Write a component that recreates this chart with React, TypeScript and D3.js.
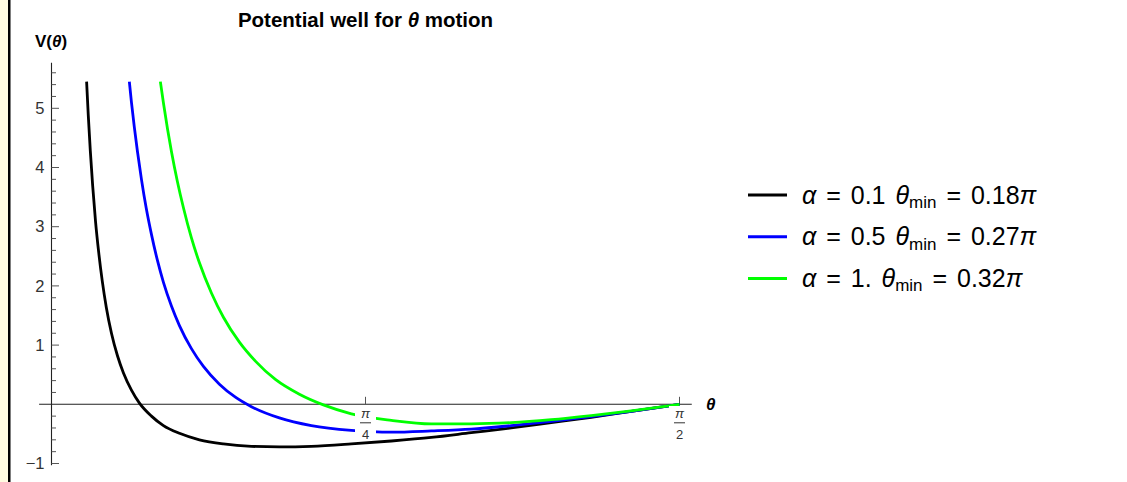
import * as d3 from "d3";

// readings (theta in radians, V)
const BLACK_T = [0.0878, 0.092, 0.097, 0.103, 0.11, 0.118, 0.127, 0.137, 0.15, 0.165, 0.18, 0.2, 0.22, 0.25, 0.28, 0.32, 0.37, 0.43, 0.5, 0.57, 0.65, 0.75, 0.85, 0.95, 1.05, 1.15, 1.25, 1.35, 1.45, 1.5708];
const BLACK_V = [5.45, 4.88, 4.29, 3.69, 3.1, 2.57, 2.08, 1.64, 1.2, 0.82, 0.53, 0.24, 0.02, -0.2, -0.36, -0.49, -0.6, -0.67, -0.71, -0.72, -0.71, -0.67, -0.62, -0.56, -0.48, -0.4, -0.31, -0.22, -0.12, 0];

const BLUE_T = [0.1947, 0.2, 0.207, 0.215, 0.225, 0.237, 0.25, 0.265, 0.28, 0.3, 0.32, 0.35, 0.38, 0.42, 0.46, 0.5, 0.57, 0.65, 0.75, 0.85, 0.95, 1.05, 1.15, 1.25, 1.35, 1.45, 1.5708];
const BLUE_V = [5.45, 5.1, 4.69, 4.27, 3.8, 3.31, 2.87, 2.43, 2.06, 1.66, 1.33, 0.94, 0.64, 0.34, 0.12, -0.04, -0.23, -0.36, -0.44, -0.47, -0.45, -0.42, -0.36, -0.29, -0.21, -0.12, 0];

const GREEN_T = [0.2723, 0.28, 0.29, 0.3, 0.315, 0.33, 0.35, 0.37, 0.4, 0.43, 0.47, 0.51, 0.56, 0.62, 0.68, 0.75, 0.85, 0.95, 1.05, 1.15, 1.25, 1.35, 1.45, 1.5708];
const GREEN_V = [5.45, 5.09, 4.66, 4.27, 3.76, 3.32, 2.81, 2.39, 1.88, 1.47, 1.05, 0.73, 0.42, 0.17, -0.01, -0.16, -0.27, -0.33, -0.33, -0.31, -0.26, -0.19, -0.11, 0];

const ALPHAS = ["0.1", "0.5", "1."];
const THETA_MINS = ["0.18", "0.27", "0.32"];
const COLORS = ["#000000", "#0000ff", "#00ff00"];

const Y_MAJOR = [-1, 1, 2, 3, 4, 5];
const Y_LABELS = ["\u22121", "1", "2", "3", "4", "5"];
const X_TICKS = [Math.PI / 4, Math.PI / 2];
const X_TICK_DEN = ["4", "2"];

const FONT = "'Liberation Sans', Arial, sans-serif";

export default function App() {
  const W = 1127, H = 482;
  const x = d3.scaleLinear().domain([0, Math.PI / 2]).range([51.5, 679.5]);
  const y = d3.scaleLinear().domain([0, 5]).range([404.3, 108.3]);

  const series = [
    { t: BLACK_T, v: BLACK_V },
    { t: BLUE_T, v: BLUE_V },
    { t: GREEN_T, v: GREEN_V },
  ].map((s, i) => ({
    pts: s.t.map((t, j) => [t, s.v[j]] as [number, number]),
    color: COLORS[i],
    alpha: ALPHAS[i],
    tmin: THETA_MINS[i],
  }));

  const line = d3
    .line<[number, number]>()
    .x(d => x(d[0]))
    .y(d => y(d[1]))
    .curve(d3.curveMonotoneX);

  const minor = d3.range(-1, 5.61, 0.2).map(v => Math.round(v * 10) / 10).filter(v => Math.abs(v - Math.round(v)) > 0.01);

  const axisCol = "#222";
  const tickCol = "#555";
  const labCol = "#333";

  return (
    <div style={{ position: "fixed", left: 0, top: 0 }}>
      <svg width={W} height={H} style={{ display: "block", background: "#fff" }} fontFamily={FONT}>
        {/* notebook strip on the left */}
        <rect x={0} y={0} width={8} height={H} fill="#fffbe0" />
        <rect x={8} y={0} width={2.5} height={H} fill="#000" />

        {/* title */}
        <text x={365.5} y={26.5} textAnchor="middle" fontSize={20.5} fontWeight="bold" fill="#000">
          Potential well for <tspan fontStyle="italic">θ</tspan> motion
        </text>

        {/* axes */}
        <line x1={x(-0.031)} x2={x(1.6015)} y1={y(0)} y2={y(0)} stroke={axisCol} strokeWidth={1.1} />
        <line x1={x(0)} x2={x(0)} y1={y(-1.03)} y2={y(5.77)} stroke={axisCol} strokeWidth={1.1} />

        {Y_MAJOR.map((v, i) => (
          <g key={"ym" + v}>
            <line x1={x(0)} x2={x(0) + 7.5} y1={y(v)} y2={y(v)} stroke={tickCol} strokeWidth={1} />
            <text x={x(0) - 7} y={y(v)} dy="0.35em" textAnchor="end" fontSize={16.5} fill={labCol}>
              {Y_LABELS[i]}
            </text>
          </g>
        ))}
        {minor.map(v => (
          <line key={"mn" + v} x1={x(0)} x2={x(0) + 4.5} y1={y(v)} y2={y(v)} stroke={tickCol} strokeWidth={1} />
        ))}

        {X_TICKS.map(t => (
          <line key={"xt" + t} x1={x(t)} x2={x(t)} y1={y(0)} y2={y(0) - 7.5} stroke={tickCol} strokeWidth={1} />
        ))}

        {/* axis labels */}
        <text x={35} y={47} fontSize={17} fontWeight="bold" fill="#000">
          V(<tspan fontStyle="italic">θ</tspan>)
        </text>
        <text x={706} y={410} fontSize={17} fontWeight="bold" fontStyle="italic" fill="#000">
          θ
        </text>

        {/* curves */}
        {series.map(s => (
          <path key={s.color} d={line(s.pts) || ""} fill="none" stroke={s.color} strokeWidth={2.8} />
        ))}

        {/* pi fraction tick labels */}
        {X_TICKS.map((t, i) => (
          <g key={"xl" + t}>
            <rect x={x(t) - 10.5} y={406} width={21} height={34} fill="#fff" />
            <text x={x(t)} y={417.5} textAnchor="middle" fontSize={13.5} fontStyle="italic" fill={labCol}>
              π
            </text>
            <line x1={x(t) - 5.5} x2={x(t) + 5.5} y1={y(0) + 18.5} y2={y(0) + 18.5} stroke={labCol} strokeWidth={1} />
            <text x={x(t)} y={439} textAnchor="middle" fontSize={13} fill={labCol}>
              {X_TICK_DEN[i]}
            </text>
          </g>
        ))}

        {/* legend */}
        {series.map((s, i) => {
          const cy = 195 + i * 41.7;
          return (
            <g key={"lg" + i}>
              <line x1={748} x2={787} y1={cy} y2={cy} stroke={s.color} strokeWidth={3} />
              <text x={802} y={cy + 8.5} fontSize={25} wordSpacing={3} fill="#000">
                <tspan fontStyle="italic">α</tspan>
                {" = " + s.alpha + " "}
                <tspan fontStyle="italic">θ</tspan>
                <tspan fontSize={17} dy={4.5}>min</tspan>
                <tspan dy={-4.5}>{" = " + s.tmin}</tspan>
                <tspan fontStyle="italic">π</tspan>
              </text>
            </g>
          );
        })}
      </svg>
    </div>
  );
}
